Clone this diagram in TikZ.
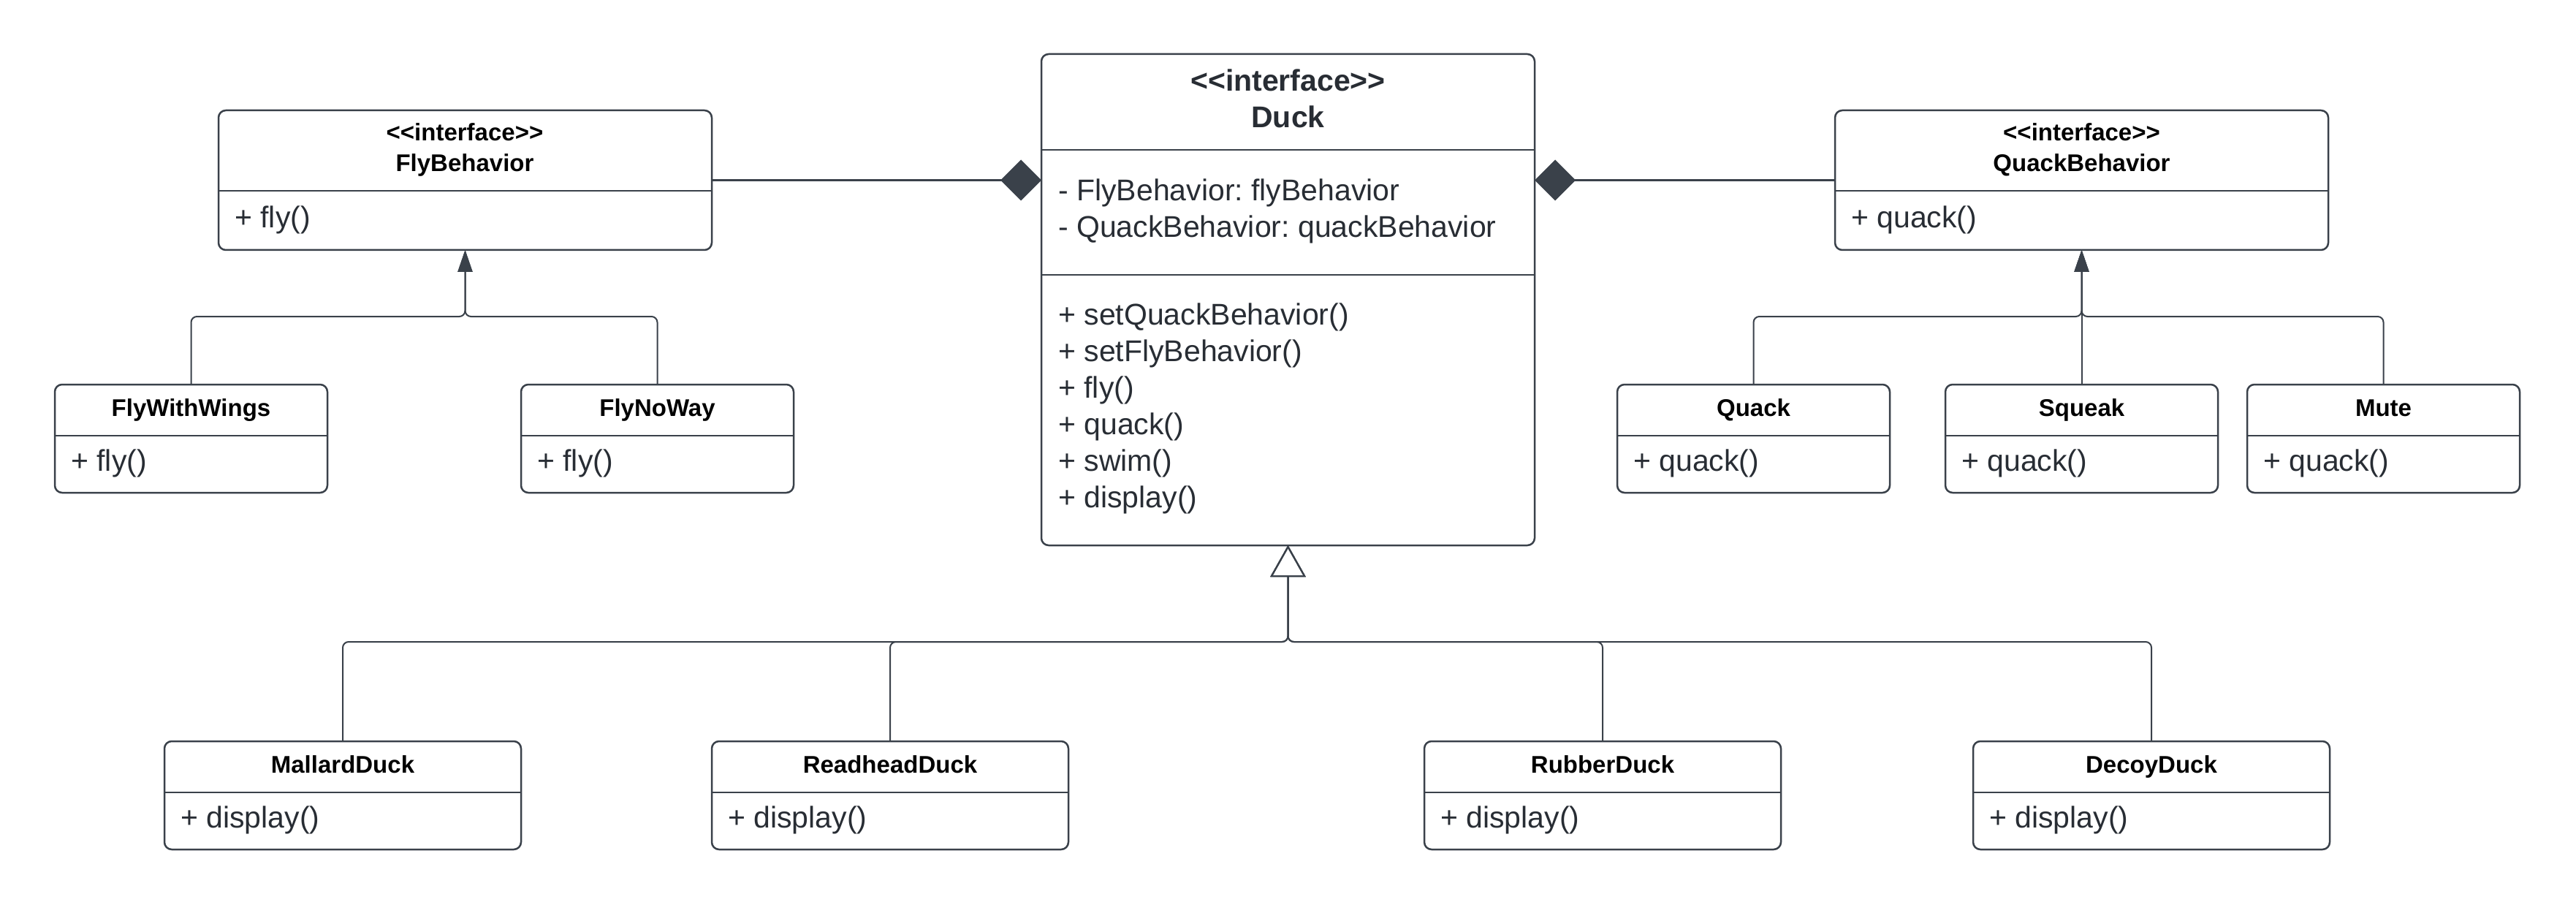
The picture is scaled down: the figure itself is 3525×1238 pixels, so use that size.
\documentclass[tikz,border=0pt]{standalone}
\usepackage{fontspec}
\setmainfont{Liberation Sans}
% a family without the TeX input mapping, so that << and >> stay as typed
\newfontfamily\umlfont{Liberation Sans}
\usetikzlibrary{arrows.meta}
\definecolor{edge}{RGB}{58,65,74}
\definecolor{ink}{RGB}{40,45,52}
\frenchspacing
\begin{document}
\begin{tikzpicture}[x=1pt,y=-1pt,
  box/.style={draw=edge, line width=2.5pt, rounded corners=10pt, fill=white,
    anchor=north west, inner sep=0pt, outer sep=0pt},
  bigbox/.style={box, minimum width=675pt},
  smallbox/.style={box, minimum width=373pt, minimum height=148pt},
  widebox/.style={box, minimum width=488pt, minimum height=148pt},
  divider/.style={draw=edge, line width=2.5pt},
  ttl/.style={font=\umlfont\fontsize{33}{40}\selectfont\bfseries, text=black,
    inner sep=0pt, text height=24pt, text depth=7pt},
  bigttl/.style={font=\umlfont\fontsize{41}{49}\selectfont\bfseries, text=ink,
    inner sep=0pt, text height=30pt, text depth=9pt},
  member/.style={font=\umlfont\fontsize{41}{49}\selectfont, text=ink, anchor=west,
    inner sep=0pt, text height=30pt, text depth=9pt},
  conn/.style={draw=edge, line width=2pt, rounded corners=8pt},
  realize/.style={conn, -{Triangle[length=30pt,width=20pt]}},
  extend/.style={conn, -{Triangle[open,length=43pt,width=48pt]}},
  compose/.style={draw=edge, line width=2.5pt, -{Diamond[length=56pt,width=56pt]}}
]
\useasboundingbox[fill=white] (0,0) rectangle (3525,1238);

% ---------- interfaces ----------
\node[bigbox, minimum height=191pt] (flyb) at (299,151) {};
\draw[divider] (flyb.west |- 0,261) -- (flyb.east |- 0,261);
\node[ttl] (flyb-st) at (636,184) {<<interface>>};
\node[ttl] (flyb-nm) at (636,226) {FlyBehavior};
\node[member] (flyb-m1) at (321,301) {+ fly()};

\node[bigbox, minimum height=672pt] (duck) at (1425,74) {};
\draw[divider] (duck.west |- 0,205) -- (duck.east |- 0,205);
\draw[divider] (duck.west |- 0,376) -- (duck.east |- 0,376);
\node[bigttl] (duck-st) at (1762.5,114) {<<interface>>};
\node[bigttl] (duck-nm) at (1762.5,164) {Duck};
\node[member] (duck-a1) at (1448,264) {- FlyBehavior: flyBehavior};
\node[member] (duck-a2) at (1448,314) {- QuackBehavior: quackBehavior};
\node[member] (duck-m1) at (1448,434) {+ setQuackBehavior()};
\node[member] (duck-m2) at (1448,484) {+ setFlyBehavior()};
\node[member] (duck-m3) at (1448,534) {+ fly()};
\node[member] (duck-m4) at (1448,584) {+ quack()};
\node[member] (duck-m5) at (1448,634) {+ swim()};
\node[member] (duck-m6) at (1448,684) {+ display()};

\node[bigbox, minimum height=191pt] (quackb) at (2511,151) {};
\draw[divider] (quackb.west |- 0,261) -- (quackb.east |- 0,261);
\node[ttl] (quackb-st) at (2848.5,184) {<<interface>>};
\node[ttl] (quackb-nm) at (2848.5,226) {QuackBehavior};
\node[member] (quackb-m1) at (2533,301) {+ quack()};

% ---------- fly behaviours ----------
\node[smallbox] (fww) at (75,526) {};
\draw[divider] (fww.west |- 0,596) -- (fww.east |- 0,596);
\node[ttl] (fww-nm) at (261.5,561) {FlyWithWings};
\node[member] (fww-m1) at (97,634) {+ fly()};

\node[smallbox] (fnw) at (713,526) {};
\draw[divider] (fnw.west |- 0,596) -- (fnw.east |- 0,596);
\node[ttl] (fnw-nm) at (899.5,561) {FlyNoWay};
\node[member] (fnw-m1) at (735,634) {+ fly()};

% ---------- quack behaviours ----------
\node[smallbox] (qk) at (2213,526) {};
\draw[divider] (qk.west |- 0,596) -- (qk.east |- 0,596);
\node[ttl] (qk-nm) at (2399.5,561) {Quack};
\node[member] (qk-m1) at (2235,634) {+ quack()};

\node[smallbox] (sq) at (2662,526) {};
\draw[divider] (sq.west |- 0,596) -- (sq.east |- 0,596);
\node[ttl] (sq-nm) at (2848.5,561) {Squeak};
\node[member] (sq-m1) at (2684,634) {+ quack()};

\node[smallbox] (mu) at (3075,526) {};
\draw[divider] (mu.west |- 0,596) -- (mu.east |- 0,596);
\node[ttl] (mu-nm) at (3261.5,561) {Mute};
\node[member] (mu-m1) at (3097,634) {+ quack()};

% ---------- concrete ducks ----------
\node[widebox] (mal) at (225,1014) {};
\draw[divider] (mal.west |- 0,1084) -- (mal.east |- 0,1084);
\node[ttl] (mal-nm) at (469,1049) {MallardDuck};
\node[member] (mal-m1) at (247,1122) {+ display()};

\node[widebox] (red) at (974,1014) {};
\draw[divider] (red.west |- 0,1084) -- (red.east |- 0,1084);
\node[ttl] (red-nm) at (1218,1049) {ReadheadDuck};
\node[member] (red-m1) at (996,1122) {+ display()};

\node[widebox] (rub) at (1949,1014) {};
\draw[divider] (rub.west |- 0,1084) -- (rub.east |- 0,1084);
\node[ttl] (rub-nm) at (2193,1049) {RubberDuck};
\node[member] (rub-m1) at (1971,1122) {+ display()};

\node[widebox] (dec) at (2700,1014) {};
\draw[divider] (dec.west |- 0,1084) -- (dec.east |- 0,1084);
\node[ttl] (dec-nm) at (2944,1049) {DecoyDuck};
\node[member] (dec-m1) at (2722,1122) {+ display()};

% ---------- bus junctions ----------
\coordinate (flybus) at (flyb.south |- 0,433);
\coordinate (qbus) at (quackb.south |- 0,433);
\coordinate (duckbus) at (duck.south |- 0,878);

% ---------- composition ----------
\draw[compose] (flyb.east) -- (duck.west |- flyb.east);
\draw[compose] (quackb.west) -- (duck.east |- quackb.west);

% ---------- realization ----------
\draw[realize] (fww.north) |- (flybus) -- (flyb.south);
\draw[realize] (fnw.north) |- (flybus) -- (flyb.south);
\draw[realize] (qk.north) |- (qbus) -- (quackb.south);
\draw[realize] (mu.north) |- (qbus) -- (quackb.south);
\draw[realize] (sq.north) -- (quackb.south);

% ---------- generalization ----------
\draw[extend] (mal.north) |- (duckbus) -- (duck.south);
\draw[extend] (red.north) |- (duckbus) -- (duck.south);
\draw[extend] (rub.north) |- (duckbus) -- (duck.south);
\draw[extend] (dec.north) |- (duckbus) -- (duck.south);
\end{tikzpicture}
\end{document}
